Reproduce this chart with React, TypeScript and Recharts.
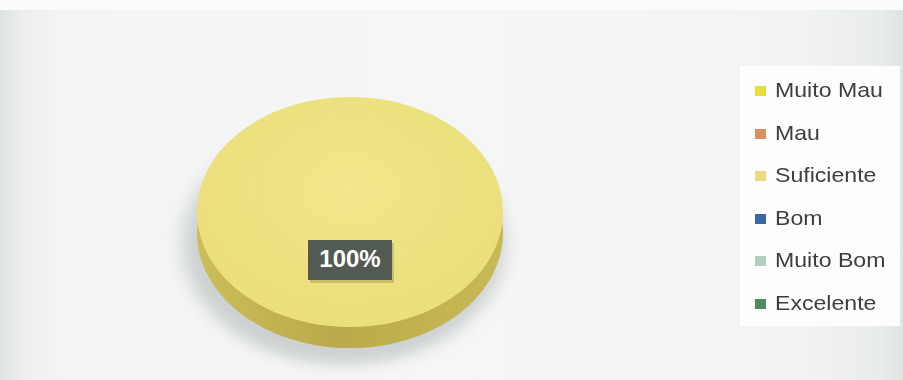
import React from "react";
import { PieChart, Pie, Cell, Legend } from "recharts";

const categories = ["Muito Mau", "Mau", "Suficiente", "Bom", "Muito Bom", "Excelente"];
const values = [0, 0, 100, 0, 0, 0];
const colors = ["#e6df3c", "#d9905e", "#e9dc80", "#3a65a6", "#b3cdbf", "#4d8a5f"];

const data = categories.map((name, i) => ({ name, value: values[i] }));

const W = 903;
const H = 380;
const CX = 350;
const CY = 212;
const R = 153;
const K = 0.752;
const DEPTH = 28;
const SH = 540;
const M0 = { top: 0, right: 0, bottom: 0, left: 0 };

const scaled: React.CSSProperties = {
  position: "absolute",
  left: 0,
  top: 0,
  width: W,
  height: SH,
  transform: `scaleY(${K})`,
  transformOrigin: `${CX}px ${CY}px`,
};

const renderLabel = (props: any) => {
  const { cx, cy, percent, value } = props;
  if (!value) return null;
  const w = 84;
  const h = 40;
  const x = cx - w / 2;
  const y = cy + 28;
  return (
    <g>
      <rect x={x + 2} y={y + 3} width={w} height={h} fill="#a9a05a" opacity={0.5} />
      <rect x={x} y={y} width={w} height={h} fill="#525b53" />
      <text
        x={cx}
        y={y + h / 2 + 1}
        fill="#ffffff"
        textAnchor="middle"
        dominantBaseline="middle"
        fontFamily="'Liberation Sans', Arial, sans-serif"
        fontWeight="bold"
        fontSize={24}
      >
        {`${Math.round(percent * 100)}%`}
      </text>
    </g>
  );
};

const renderLegend = (props: any) => {
  const payload = [...(props.payload || [])].sort(
    (a: any, b: any) => categories.indexOf(a.value) - categories.indexOf(b.value)
  );
  return (
    <div
      style={{
        width: 160,
        height: 260,
        background: "#fdfdfd",
        boxSizing: "border-box",
        paddingTop: 4,
      }}
    >
      {payload.map((p: any, i: number) => {
        const ci = categories.indexOf(p.value);
        return (
          <div
            key={i}
            style={{
              height: 42.6,
              position: "relative",
            }}
          >
            <div
              style={{
                position: "absolute",
                left: 15,
                top: 16,
                width: 11,
                height: 10,
                background: colors[ci] || p.color,
              }}
            />
            <span
              style={{
                position: "absolute",
                left: 35,
                top: 8,
                display: "inline-block",
                transform: "scaleX(1.1)",
                transformOrigin: "0 50%",
                fontFamily: "'Liberation Sans', Arial, sans-serif",
                fontSize: 21,
                lineHeight: "24px",
                color: "#3b3f3d",
                whiteSpace: "nowrap",
              }}
            >
              {p.value}
            </span>
          </div>
        );
      })}
    </div>
  );
};

export default function App() {
  return (
    <div
      style={{
        position: "relative",
        width: W,
        height: H,
        overflow: "hidden",
        background:
          "linear-gradient(90deg, #dde2e2 0px, #eceeee 20px, #f3f4f4 60px, #f5f6f6 450px, #f2f4f4 800px, #e9ecec 880px, #dfe3e3 903px)",
      }}
    >
      <style>{"body{margin:0}"}</style>
      <div
        style={{
          position: "absolute",
          left: 0,
          top: 0,
          width: W,
          height: 10,
          background: "#fbfbfb",
        }}
      />
      {/* shadow */}
      <div style={{ ...scaled, filter: "blur(9px)", opacity: 0.45 }}>
        <PieChart width={W} height={SH} margin={M0}>
          <Pie
            data={data}
            dataKey="value"
            nameKey="name"
            cx={CX - 6}
            cy={CY + DEPTH + 14}
            outerRadius={R + 8}
            startAngle={90}
            endAngle={-270}
            stroke="none"
            fill="#9ea5a5"
            isAnimationActive={false}
            legendType="none"
          />
        </PieChart>
      </div>
      {/* 3D pie body */}
      <div style={scaled}>
        <PieChart width={W} height={SH} margin={M0}>
          <defs>
            <linearGradient id="sideGrad" x1="0" y1="0" x2="1" y2="0">
              <stop offset="0%" stopColor="#cbbd58" />
              <stop offset="45%" stopColor="#b9ab4b" />
              <stop offset="100%" stopColor="#c7b955" />
            </linearGradient>
            <radialGradient id="topGrad" cx="50%" cy="40%" r="60%">
              <stop offset="0%" stopColor="#f0e68a" />
              <stop offset="100%" stopColor="#eadf7a" />
            </radialGradient>
          </defs>
          <Pie
            data={data}
            dataKey="value"
            nameKey="name"
            cx={CX}
            cy={CY + DEPTH}
            outerRadius={R}
            startAngle={90}
            endAngle={-270}
            stroke="none"
            isAnimationActive={false}
            legendType="none"
          >
            {data.map((_, i) => (
              <Cell key={i} fill="url(#sideGrad)" />
            ))}
          </Pie>
          <Pie
            data={data}
            dataKey="value"
            nameKey="name"
            cx={CX}
            cy={CY}
            outerRadius={R}
            startAngle={90}
            endAngle={-270}
            stroke="none"
            isAnimationActive={false}
            legendType="none"
          >
            {data.map((_, i) => (
              <Cell key={i} fill={i === 2 ? "url(#topGrad)" : colors[i]} />
            ))}
          </Pie>
        </PieChart>
      </div>
      {/* label + legend overlay */}
      <div style={{ position: "absolute", left: 0, top: 0 }}>
        <PieChart width={W} height={H} margin={M0}>
          <Pie
            data={data}
            dataKey="value"
            nameKey="name"
            cx={CX}
            cy={CY}
            outerRadius={R}
            startAngle={90}
            endAngle={-270}
            stroke="none"
            fillOpacity={0}
            label={renderLabel}
            labelLine={false}
            isAnimationActive={false}
          >
            {data.map((_, i) => (
              <Cell key={i} fill={colors[i]} />
            ))}
          </Pie>
          <Legend
            content={renderLegend}
            layout="vertical"
            align="right"
            verticalAlign="top"
            wrapperStyle={{ left: 740, top: 66, width: 160, height: 260 }}
          />
        </PieChart>
      </div>
    </div>
  );
}
